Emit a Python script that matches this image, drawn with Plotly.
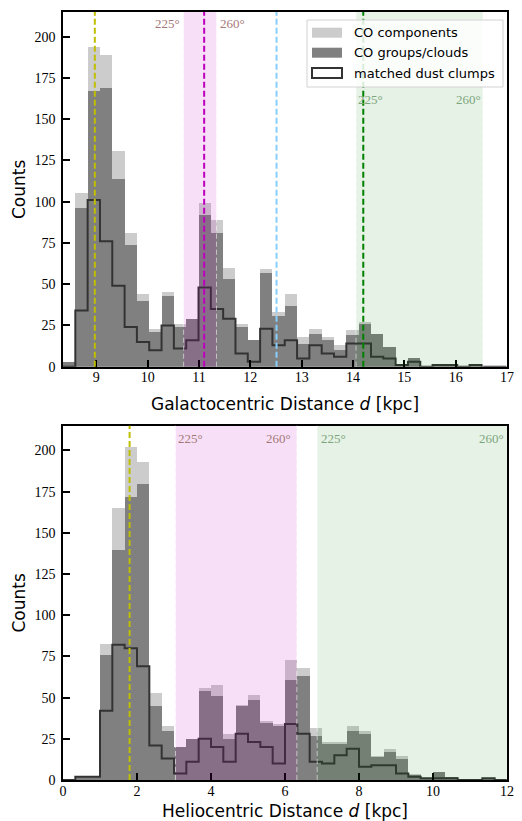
import plotly.graph_objects as go

# ---------------- data ----------------
# Top panel: Galactocentric distance histogram (bins of 0.24 kpc starting at 8.35 kpc)
gal_bin_start = 8.35
gal_bin_width = 0.24
gal_components = [3, 105, 194, 189, 131, 81, 44, 23, 45, 26, 29, 99, 89, 60, 26, 16, 59, 33,
                  44, 18, 23, 18, 13, 22, 27, 20, 12, 1, 5, 0, 1, 1, 0, 1, 0, 0]
gal_groups = [3, 96, 167, 169, 114, 74, 40, 21, 43, 24, 29, 92, 81, 53, 24, 16, 57, 31,
              37, 14, 20, 16, 10, 19, 26, 20, 12, 1, 5, 0, 1, 1, 0, 1, 0, 0]
gal_dust = [0, 34, 101, 76, 49, 24, 15, 10, 25, 11, 16, 48, 35, 29, 8, 3, 23, 13,
            16, 5, 13, 8, 6, 14, 14, 6, 5, 1, 3, 0, 1, 1, 0, 1, 0, 0]
gal_vlines = [(8.97, "rgb(191,191,0)"), (11.10, "rgb(191,0,191)"),
              (12.51, "rgb(135,206,250)"), (14.20, "rgb(0,128,0)")]
gal_pink = (10.70, 11.34)
gal_green = (14.06, 16.53)
gal_xticks = [9, 10, 11, 12, 13, 14, 15, 16, 17]

# Bottom panel: Heliocentric distance histogram (bins of 1/3 kpc starting at 0)
hel_bin_start = 0.0
hel_bin_width = 1.0 / 3.0
hel_components = [0, 2, 2, 83, 165, 202, 193, 53, 33, 20, 25, 56, 58, 28, 46, 52, 36, 34,
                  73, 68, 32, 23, 23, 33, 30, 15, 19, 15, 4, 1, 5, 2, 0, 0, 1, 0]
hel_groups = [0, 2, 2, 76, 140, 172, 180, 45, 30, 20, 25, 54, 51, 25, 45, 49, 35, 33,
              61, 63, 27, 22, 22, 30, 28, 14, 17, 13, 3, 1, 5, 2, 0, 0, 1, 0]
hel_dust = [0, 2, 2, 42, 82, 80, 69, 21, 13, 4, 11, 25, 20, 11, 28, 23, 20, 10,
            34, 28, 11, 10, 15, 19, 8, 9, 9, 4, 2, 1, 1, 1, 0, 0, 1, 0]
hel_vlines = [(1.80, "rgb(191,191,0)")]
hel_pink = (3.04, 6.32)
hel_green = (6.87, 12.0)
hel_xticks = [0, 2, 4, 6, 8, 10, 12]

yticks = [0, 25, 50, 75, 100, 125, 150, 175, 200]
legend_labels = ["CO components", "CO groups/clouds", "matched dust clumps"]

# ---------------- styles ----------------
LIGHT = "rgb(204,204,204)"
DARK = "rgb(128,128,128)"
STEP = "rgb(51,51,51)"
PINK_FILL = "rgba(191,0,191,0.12)"
GREEN_FILL = "rgba(0,128,0,0.10)"
PINK_TXT = "rgb(165,120,120)"
GREEN_TXT = "rgb(125,165,125)"
SERIF = "Liberation Serif, DejaVu Serif, serif"
SANS = "DejaVu Sans, Open Sans, sans-serif"

fig = go.Figure()


def add_panel(start, width, comp, grp, dust, xa, ya):
    n = len(comp)
    centers = [start + width * (i + 0.5) for i in range(n)]
    fig.add_trace(go.Bar(x=centers, y=comp, width=[width] * n, marker=dict(color=LIGHT, line=dict(width=0)),
                         xaxis=xa, yaxis=ya, showlegend=False, hoverinfo="skip"))
    fig.add_trace(go.Bar(x=centers, y=grp, width=[width] * n, marker=dict(color=DARK, line=dict(width=0)),
                         xaxis=xa, yaxis=ya, showlegend=False, hoverinfo="skip"))
    edges = [start + width * i for i in range(n + 1)]
    sx = [edges[0]] + edges
    sy = [0] + list(dust) + [0]
    fig.add_trace(go.Scatter(x=sx, y=sy, mode="lines", line=dict(color=STEP, width=2, shape="hv"),
                             xaxis=xa, yaxis=ya, showlegend=False, hoverinfo="skip"))


add_panel(gal_bin_start, gal_bin_width, gal_components, gal_groups, gal_dust, "x", "y")
add_panel(hel_bin_start, hel_bin_width, hel_components, hel_groups, hel_dust, "x2", "y2")

shapes = []


def add_decor(xr, yr, vlines, pink, green):
    for xv, col in vlines:
        shapes.append(dict(type="line", xref=xr, yref=yr + " domain", x0=xv, x1=xv, y0=0, y1=1,
                           line=dict(color=col, width=2, dash="6px,3px"), layer="above"))
    for (a, b), fill in [(pink, PINK_FILL), (green, GREEN_FILL)]:
        shapes.append(dict(type="rect", xref=xr, yref=yr + " domain", x0=a, x1=b, y0=0, y1=1,
                           fillcolor=fill, line=dict(width=0), layer="above"))
        for xe in (a, b):
            shapes.append(dict(type="line", xref=xr, yref=yr + " domain", x0=xe, x1=xe, y0=0, y1=1,
                               line=dict(color="rgba(255,255,255,0.55)", width=1, dash="5px,3px"),
                               layer="above"))


add_decor("x", "y", gal_vlines, gal_pink, gal_green)
add_decor("x2", "y2", hel_vlines, hel_pink, hel_green)

annotations = []


def deg_label(text, x, y, xr, yr, anchor, color, shift=0):
    annotations.append(dict(text=text, x=x, y=y, xref=xr, yref=yr, xanchor=anchor, yanchor="middle",
                            showarrow=False, xshift=shift, font=dict(family=SERIF, size=13, color=color)))


# top labels
deg_label("225°", gal_pink[0], 208, "x", "y", "right", PINK_TXT, -2)
deg_label("260°", gal_pink[1], 208, "x", "y", "left", PINK_TXT, 2)
deg_label("225°", gal_green[0], 162, "x", "y", "left", GREEN_TXT, 0)
deg_label("260°", gal_green[1], 162, "x", "y", "right", GREEN_TXT, 0)
# bottom labels
deg_label("225°", hel_pink[0], 207, "x2", "y2", "left", PINK_TXT, 1)
deg_label("260°", hel_pink[1], 207, "x2", "y2", "right", PINK_TXT, -4)
deg_label("225°", hel_green[0], 207, "x2", "y2", "left", GREEN_TXT, 2)
deg_label("260°", hel_green[1], 207, "x2", "y2", "right", GREEN_TXT, -1)

# ---------------- manual legend ----------------
W, H = 522, 821
ML, MR, MT, MB = 63, 15, 12, 41
PW, PH = W - ML - MR, H - MT - MB


def px(xp):
    return (xp - ML) / PW


def py(yp):
    return (H - MB - yp) / PH


shapes.append(dict(type="rect", xref="paper", yref="paper", x0=px(307), x1=px(503), y0=py(87), y1=py(20),
                   fillcolor="rgba(255,255,255,0.85)", line=dict(color="rgb(210,210,210)", width=1),
                   layer="above"))
rows = [32.7, 52.7, 73.0]
sw_styles = [dict(fillcolor=LIGHT, line=dict(width=0)),
             dict(fillcolor=DARK, line=dict(width=0)),
             dict(fillcolor="white", line=dict(color=STEP, width=2))]
for yc, st, lab in zip(rows, sw_styles, legend_labels):
    shapes.append(dict(type="rect", xref="paper", yref="paper", x0=px(312), x1=px(342),
                       y0=py(yc + 5), y1=py(yc - 5), layer="above", **st))
    annotations.append(dict(text=lab, x=px(352), y=py(yc), xref="paper", yref="paper", xanchor="left",
                            yanchor="middle", showarrow=False, font=dict(family=SANS, size=13, color="black")))

# ---------------- axes ----------------
axis_common = dict(showline=True, linecolor="black", linewidth=1.5, mirror=True, ticks="inside",
                   ticklen=7, tickwidth=1.5, tickcolor="black", showgrid=False, zeroline=False,
                   tickfont=dict(family=SERIF, size=14, color="black"), automargin=False)

top_dom = [py(366.7), 1.0]
bot_dom = [0.0, py(425.7)]

fig.update_layout(
    width=W, height=H, margin=dict(l=ML, r=MR, t=MT, b=MB, pad=0),
    plot_bgcolor="white", paper_bgcolor="white", barmode="overlay", bargap=0,
    showlegend=False, shapes=shapes, annotations=annotations,
    xaxis=dict(range=[gal_bin_start, 17.0], tickvals=gal_xticks, domain=[0, 1], anchor="y",
               title=dict(text="Galactocentric Distance <i>d</i> [kpc]", font=dict(family=SANS, size=17, color="black"),
                          standoff=14), ticklabelstandoff=-3, **axis_common),
    yaxis=dict(range=[0, 215], tickvals=yticks, domain=top_dom, anchor="x",
               title=dict(text="Counts", font=dict(family=SANS, size=17, color="black"), standoff=4),
               ticklabelstandoff=3, **axis_common),
    xaxis2=dict(range=[0, 12], tickvals=hel_xticks, domain=[0, 1], anchor="y2",
                title=dict(text="Heliocentric Distance <i>d</i> [kpc]", font=dict(family=SANS, size=17, color="black"),
                           standoff=8), ticklabelstandoff=-3, **axis_common),
    yaxis2=dict(range=[0, 215], tickvals=yticks, domain=bot_dom, anchor="x2",
                title=dict(text="Counts", font=dict(family=SANS, size=17, color="black"), standoff=4),
                ticklabelstandoff=3, **axis_common),
)

fig.write_html("out.html")
